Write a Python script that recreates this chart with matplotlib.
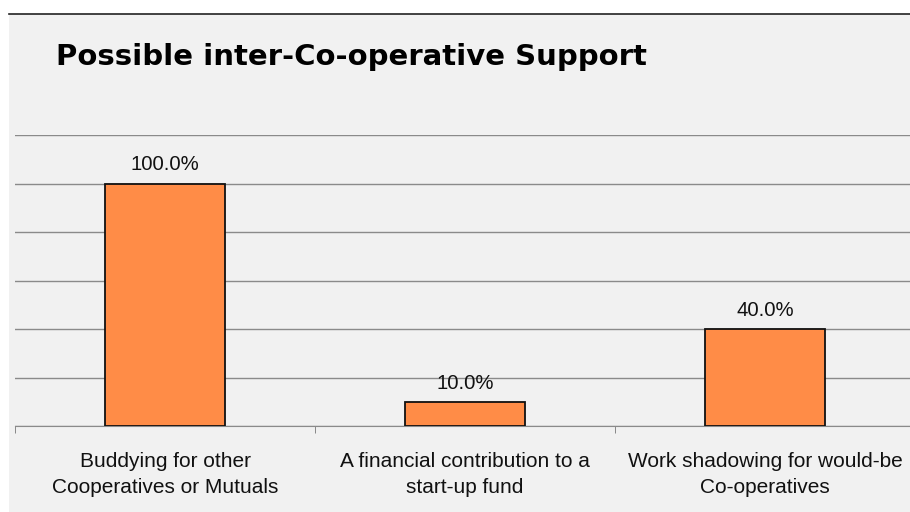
import matplotlib.pyplot as plt
from matplotlib.patches import Rectangle
from matplotlib.lines import Line2D
import numpy as np

categories = ["Buddying for other\nCooperatives or Mutuals",
              "A financial contribution to a\nstart-up fund",
              "Work shadowing for would-be\nCo-operatives"]
values = [100.0, 10.0, 40.0]
title = "Possible inter-Co-operative Support"

W, H = 910, 512
fig = plt.figure(figsize=(W / 100, H / 100), dpi=100)
fig.patch.set_facecolor("white")

# gray chart area with a dark rule along its top
fig.add_artist(Rectangle((9 / W, 0), 1 - 9 / W, (H - 14) / H,
                         transform=fig.transFigure, facecolor="#f1f1f1",
                         edgecolor="none", zorder=0))
fig.add_artist(Line2D([9 / W, 1], [(H - 14) / H] * 2, transform=fig.transFigure,
                      color="#222222", lw=1.2, zorder=1))

ax = fig.add_axes([15 / W, (H - 426) / H, 900 / W, 291 / H])
ax.set_facecolor("none")

x = np.arange(len(categories))
ax.bar(x, values, width=0.4, color="#ff8c47", edgecolor="#111111", lw=1.3, zorder=3)
for xi, v in zip(x, values):
    ax.annotate(f"{v:.1f}%", (xi, v), xytext=(0, 6.5), textcoords="offset points",
                ha="center", va="bottom", fontsize=14.6, family="Liberation Sans",
                color="#111111")

ax.set_xlim(-0.5, len(categories) - 0.5)
ax.set_ylim(0, 120)
ax.set_yticks(np.arange(0, 121, 20))
ax.yaxis.grid(True, color="#8a8a8a", lw=1)
ax.tick_params(axis="y", left=False, labelleft=False)

ax.set_xticks(x)
ax.set_xticklabels(categories, fontsize=15, family="Liberation Sans", color="#111111",
                   linespacing=1.45)
ax.tick_params(axis="x", length=0, pad=19)
ax.set_xticks(np.arange(-0.5, len(categories)), minor=True)
ax.tick_params(axis="x", which="minor", length=5, color="#777777")

for s in ["top", "right", "left"]:
    ax.spines[s].set_visible(False)
ax.spines["bottom"].set_color("#8a8a8a")

fig.text(56 / W, (H - 57) / H, title, fontsize=21, fontweight="bold",
         family="DejaVu Sans", va="center", ha="left", color="black")

fig.savefig("out.png", dpi=100)
